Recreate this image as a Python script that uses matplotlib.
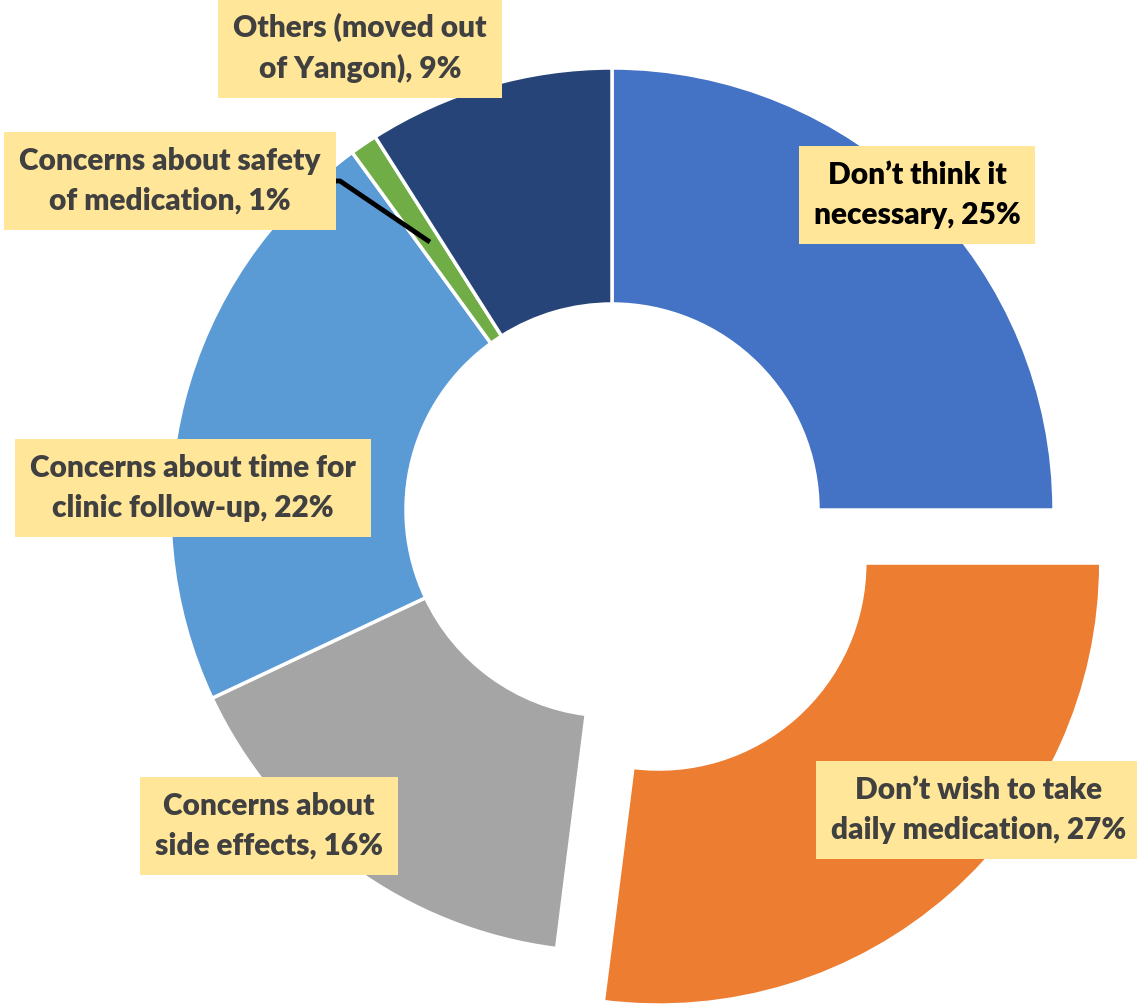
import numpy as np
import matplotlib.pyplot as plt

# ---- data (clockwise from 12 o'clock) ----
labels = [
    "Don\u2019t think it\nnecessary",
    "Don\u2019t wish to take\ndaily medication",
    "Concerns about\nside effects",
    "Concerns about time for\nclinic follow-up",
    "Concerns about safety\nof medication",
    "Others (moved out\nof Yangon)",
]
values = [25, 27, 16, 22, 1, 9]
colors = ["#4472C4", "#ED7D31", "#A5A5A5", "#5B9BD5", "#70AD47", "#264478"]
explode = [0, 0.16, 0, 0, 0, 0]

# label box centres (pixel coords, y up) and text colours
label_pos = [(917, 811), (979, 196), (269, 180), (193, 518), (170, 825), (360, 958)]
text_colors = ["black", "#404040", "#404040", "#404040", "#404040", "#404040"]

W, H = 1137, 1006
CX, CY = 612, 496
R_OUT, R_IN = 442, 206

fig = plt.figure(figsize=(W / 100, H / 100), dpi=100)
ax = fig.add_axes([0, 0, 1, 1])

ax.pie(values, colors=colors, explode=[e * R_OUT for e in explode], startangle=90,
       counterclock=False, radius=R_OUT, center=(CX, CY), frame=True,
       wedgeprops=dict(width=R_OUT - R_IN, edgecolor="white", linewidth=2.5))
ax.set_xlim(0, W)
ax.set_ylim(0, H)
ax.set_aspect("equal")
ax.axis("off")

# leader line for the 1% slice
cum = np.cumsum([0] + values)
mid = 90 - (cum[4] + values[4] / 2) * 3.6
r_mid = (R_OUT + R_IN) / 2
x0 = CX + r_mid * np.cos(np.radians(mid))
y0 = CY + r_mid * np.sin(np.radians(mid))
ax.plot([x0, 340, 328], [y0, 825, 825], color="black", lw=3.5, solid_capstyle="butt", zorder=3)

for lab, v, (x, y), tc in zip(labels, values, label_pos, text_colors):
    ax.text(x, y, f"{lab}, {v}%", ha="center", va="center", fontsize=21.5,
            fontweight="heavy", family=["Lato", "DejaVu Sans"], color=tc,
            linespacing=1.5, zorder=5,
            bbox=dict(boxstyle="square,pad=0.5", fc="#FFE699", ec="none"))

fig.savefig("out.png", dpi=100)
